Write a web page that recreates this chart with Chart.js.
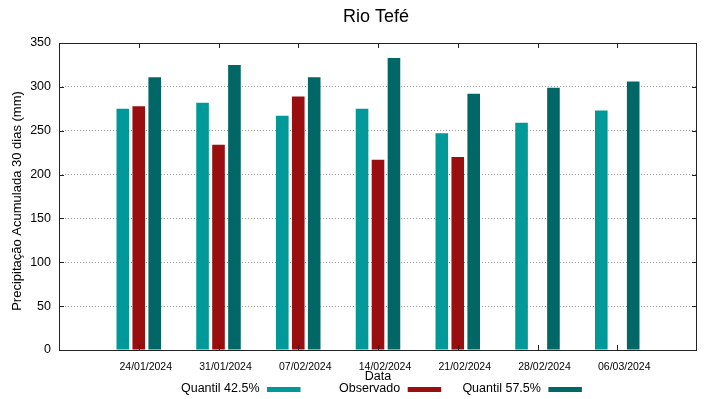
<!DOCTYPE html>
<html>
<head>
<meta charset="utf-8">
<script src="https://cdn.jsdelivr.net/npm/chart.js@4/dist/chart.umd.min.js"></script>
<style>
  html, body { margin: 0; padding: 0; background: #fff; }
  #wrap { width: 719px; height: 399px; }
</style>
</head>
<body>
<div id="wrap"><canvas id="grafico" width="719" height="399"></canvas></div>
<script>
// datas (eixo x)
const datas = ['24/01/2024', '31/01/2024', '07/02/2024', '14/02/2024', '21/02/2024', '28/02/2024', '06/03/2024'];
// valores (mm)
const quantil425 = [275, 282, 267, 275, 247, 259, 273];
const observado = [278, 234, 289, 217, 220, null, null];
const quantil575 = [311, 325, 311, 333, 292, 299, 306];
const yTicks = [0, 50, 100, 150, 200, 250, 300, 350];

const fonte = "'Liberation Sans', Arial, sans-serif";
const cores = ['#009999', '#990f0f', '#006666'];

// categorias vazias nas pontas para deixar a margem do gnuplot
const rotulos = [''].concat(datas, ['']);
const pad = arr => [null].concat(arr, [null]);

// desenha titulo, rotulo do eixo y, moldura, marcas internas e legenda
const extras = {
  id: 'extras',
  afterDraw(chart) {
    const ctx = chart.ctx;
    const a = chart.chartArea;
    const sx = chart.scales.x, sy = chart.scales.y;
    ctx.save();

    // titulo
    ctx.fillStyle = '#000';
    ctx.font = '18px ' + fonte;
    ctx.textAlign = 'center';
    ctx.textBaseline = 'alphabetic';
    ctx.fillText('Rio Tefé', 376, 21.5);

    // rotulo do eixo y
    ctx.save();
    ctx.translate(17, 201);
    ctx.rotate(-Math.PI / 2);
    ctx.font = '13px ' + fonte;
    ctx.textBaseline = 'middle';
    ctx.fillText('Precipitação Acumulada 30 dias (mm)', 0, 0);
    ctx.restore();

    // moldura
    ctx.strokeStyle = '#222';
    ctx.lineWidth = 1;
    ctx.strokeRect(Math.round(a.left) + 0.5, Math.round(a.top) + 0.5,
      Math.round(a.right - a.left) - 1, Math.round(a.bottom - a.top));

    // marcas internas
    ctx.beginPath();
    for (let i = 1; i <= datas.length; i++) {
      const px = Math.round(sx.getPixelForTick(i)) + 0.5;
      ctx.moveTo(px, a.top); ctx.lineTo(px, a.top + 5);
      ctx.moveTo(px, a.bottom); ctx.lineTo(px, a.bottom - 5);
    }
    yTicks.forEach(v => {
      const py = Math.round(sy.getPixelForValue(v)) + 0.5;
      ctx.moveTo(a.left, py); ctx.lineTo(a.left + 5, py);
      ctx.moveTo(a.right, py); ctx.lineTo(a.right - 5, py);
    });
    ctx.stroke();

    // legenda (texto e depois a amostra, como no gnuplot)
    ctx.font = '12.5px ' + fonte;
    ctx.textAlign = 'right';
    ctx.textBaseline = 'middle';
    chart.data.datasets.forEach((ds, i) => {
      const fimTexto = 259.5 + i * 140.7;
      ctx.fillStyle = '#000';
      ctx.fillText(ds.label, fimTexto, 388.5);
      ctx.fillStyle = ds.backgroundColor;
      ctx.fillRect(fimTexto + 7.5, 387, 33.5, 5);
    });
    ctx.restore();
  }
};

new Chart(document.getElementById('grafico'), {
  type: 'bar',
  data: {
    labels: rotulos,
    datasets: [
      { label: 'Quantil 42.5%', data: pad(quantil425), backgroundColor: cores[0] },
      { label: 'Observado', data: pad(observado), backgroundColor: cores[1] },
      { label: 'Quantil 57.5%', data: pad(quantil575), backgroundColor: cores[2] }
    ]
  },
  options: {
    responsive: false,
    animation: false,
    devicePixelRatio: 1,
    layout: { padding: { top: 43, right: 22, left: 0, bottom: 0 } },
    datasets: { bar: { categoryPercentage: 0.6, barPercentage: 0.79, borderWidth: 0 } },
    plugins: {
      legend: { display: false },
      title: { display: false },
      tooltip: { enabled: false }
    },
    scales: {
      x: {
        offset: false,
        afterFit: s => { s.height = 49; },
        grid: { display: false, drawTicks: false },
        border: { display: false },
        ticks: {
          autoSkip: false, maxRotation: 0, padding: 11, labelOffset: 7,
          color: '#000', font: { family: fonte, size: 10.5 }
        },
        title: {
          display: true, text: 'Data', color: '#000',
          font: { family: fonte, size: 12.5 },
          padding: { top: 0, bottom: 14.5 }
        }
      },
      y: {
        min: 0, max: 350,
        afterFit: s => { s.width = 59; },
        afterBuildTicks: s => { s.ticks = yTicks.map(v => ({ value: v })); },
        grid: { color: '#a0a0a0', lineWidth: 1, drawTicks: false },
        border: { display: false, dash: [1, 2] },
        ticks: { padding: 8, color: '#000', font: { family: fonte, size: 12.5 } },
        title: { display: false }
      }
    }
  },
  plugins: [extras]
});
</script>
</body>
</html>
